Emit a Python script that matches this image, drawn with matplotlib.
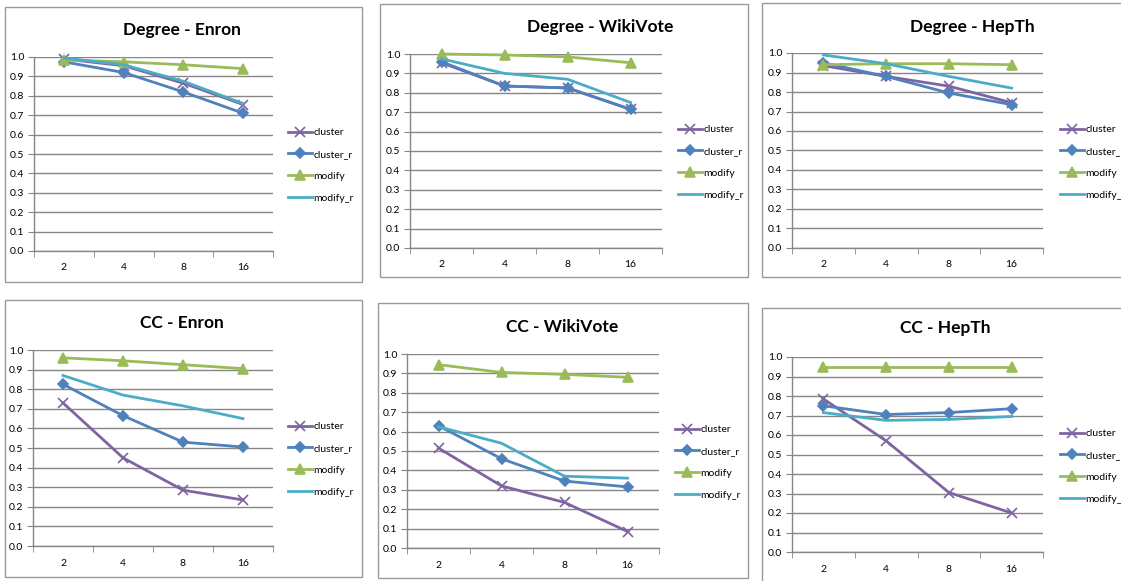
import matplotlib
matplotlib.use("Agg")
import matplotlib.pyplot as plt
from matplotlib.patches import Rectangle

# data
x_labels = ["2", "4", "8", "16"]
series_names = ["cluster", "cluster_r", "modify", "modify_r"]
titles = ["Degree - Enron", "Degree - WikiVote", "Degree - HepTh",
          "CC - Enron", "CC - WikiVote", "CC - HepTh"]

deg_enron_cluster = [0.99, 0.955, 0.865, 0.755]
deg_enron_cluster_r = [0.975, 0.92, 0.82, 0.71]
deg_enron_modify = [0.985, 0.975, 0.96, 0.94]
deg_enron_modify_r = [0.995, 0.96, 0.875, 0.76]

deg_wiki_cluster = [0.955, 0.835, 0.825, 0.715]
deg_wiki_cluster_r = [0.96, 0.835, 0.825, 0.715]
deg_wiki_modify = [1.0, 0.995, 0.985, 0.955]
deg_wiki_modify_r = [0.975, 0.9, 0.87, 0.75]

deg_hep_cluster = [0.935, 0.88, 0.83, 0.745]
deg_hep_cluster_r = [0.95, 0.88, 0.795, 0.735]
deg_hep_modify = [0.94, 0.945, 0.945, 0.94]
deg_hep_modify_r = [0.99, 0.945, 0.88, 0.82]

cc_enron_cluster = [0.73, 0.45, 0.285, 0.235]
cc_enron_cluster_r = [0.825, 0.665, 0.53, 0.505]
cc_enron_modify = [0.96, 0.945, 0.925, 0.905]
cc_enron_modify_r = [0.87, 0.77, 0.715, 0.65]

cc_wiki_cluster = [0.515, 0.32, 0.235, 0.085]
cc_wiki_cluster_r = [0.63, 0.46, 0.345, 0.315]
cc_wiki_modify = [0.945, 0.905, 0.895, 0.88]
cc_wiki_modify_r = [0.625, 0.54, 0.37, 0.36]

cc_hep_cluster = [0.785, 0.57, 0.305, 0.2]
cc_hep_cluster_r = [0.75, 0.705, 0.715, 0.735]
cc_hep_modify = [0.95, 0.95, 0.95, 0.95]
cc_hep_modify_r = [0.715, 0.675, 0.68, 0.695]

panel_data = [
    [deg_enron_cluster, deg_enron_cluster_r, deg_enron_modify, deg_enron_modify_r],
    [deg_wiki_cluster, deg_wiki_cluster_r, deg_wiki_modify, deg_wiki_modify_r],
    [deg_hep_cluster, deg_hep_cluster_r, deg_hep_modify, deg_hep_modify_r],
    [cc_enron_cluster, cc_enron_cluster_r, cc_enron_modify, cc_enron_modify_r],
    [cc_wiki_cluster, cc_wiki_cluster_r, cc_wiki_modify, cc_wiki_modify_r],
    [cc_hep_cluster, cc_hep_cluster_r, cc_hep_modify, cc_hep_modify_r],
]

# styles (Excel 2007 palette)
colors = ["#8064A2", "#4F81BD", "#9BBB59", "#4BACC6"]
markers = ["x", "D", "^", None]
msizes = [7, 5, 7.5, 0]

# layout in pixels: chart border, plot area (x0, x1, y of 1.0, y of 0.0),
# title centre, legend start (line x, first row y)
W, H = 1121, 581
borders = [(5, 7, 362, 282), (380, 4, 748, 277), (762, 3, 1135, 277),
           (5, 300, 362, 577), (378, 303, 748, 578), (762, 308, 1135, 595)]
plot_areas = [(34, 273, 57, 251), (410, 662, 54, 248), (792, 1043, 53, 248),
              (33, 273, 350, 546), (407, 659, 354, 548), (792, 1043, 357, 552)]
title_pos = [(182, 30), (600, 27), (972, 27), (182, 323), (562, 327), (945, 328)]
legend_pos = [(288, 136), (678, 133), (1060, 133), (288, 430), (675, 433), (1060, 437)]

plt.rcParams['font.family'] = ['Lato', 'DejaVu Sans']

fig = plt.figure(figsize=(W / 100, H / 100), dpi=100)
fig.patch.set_facecolor("white")

for i in range(6):
    bx0, by0, bx1, by1 = borders[i]
    fig.patches.append(Rectangle((bx0 / W, 1 - by1 / H), (bx1 - bx0) / W, (by1 - by0) / H,
                                 transform=fig.transFigure, fill=False,
                                 edgecolor="#9A9A9A", linewidth=1.0))

    px0, px1, py_top, py_bot = plot_areas[i]
    ax = fig.add_axes([px0 / W, 1 - py_bot / H, (px1 - px0) / W, (py_bot - py_top) / H])
    ax.set_facecolor("none")

    xs = list(range(len(x_labels)))
    for k, name in enumerate(series_names):
        ax.plot(xs, panel_data[i][k], color=colors[k], linewidth=2.0,
                marker=markers[k], markersize=msizes[k], markeredgewidth=1.2,
                label=name, clip_on=False, zorder=3 + k)

    ax.set_xlim(-0.5, 3.5)
    ax.set_ylim(0, 1.0)
    ax.set_xticks(xs)
    ax.set_xticklabels(x_labels)
    ax.set_xticks([-0.5, 0.5, 1.5, 2.5, 3.5], minor=True)
    ax.tick_params(axis="x", which="major", length=0, labelsize=7.5, pad=9)
    ax.tick_params(axis="x", which="minor", length=4, color="#868686", direction="out")
    ax.set_yticks([j / 10 for j in range(11)])
    ax.set_yticklabels([f"{j / 10:.1f}" for j in range(11)])
    ax.tick_params(axis="y", length=4, color="#868686", labelsize=7.5, pad=3)
    ax.grid(axis="y", color="#868686", linewidth=1.0)
    ax.set_axisbelow(True)
    for s in ["top", "right"]:
        ax.spines[s].set_visible(False)
    for s in ["left", "bottom"]:
        ax.spines[s].set_color("#868686")
        ax.spines[s].set_linewidth(1.0)

    tx, ty = title_pos[i]
    fig.text(tx / W, 1 - ty / H, titles[i], ha="center", va="center",
             fontsize=12.5, fontweight="bold")

    lx, ly = legend_pos[i]
    ax.legend(loc="upper left", bbox_to_anchor=(lx / W, 1 - (ly - 8) / H),
              bbox_transform=fig.transFigure, frameon=False, fontsize=7.5,
              handlelength=2.3, handletextpad=0.15, labelspacing=1.2,
              borderaxespad=0, borderpad=0)

fig.savefig("out.png", dpi=100)
